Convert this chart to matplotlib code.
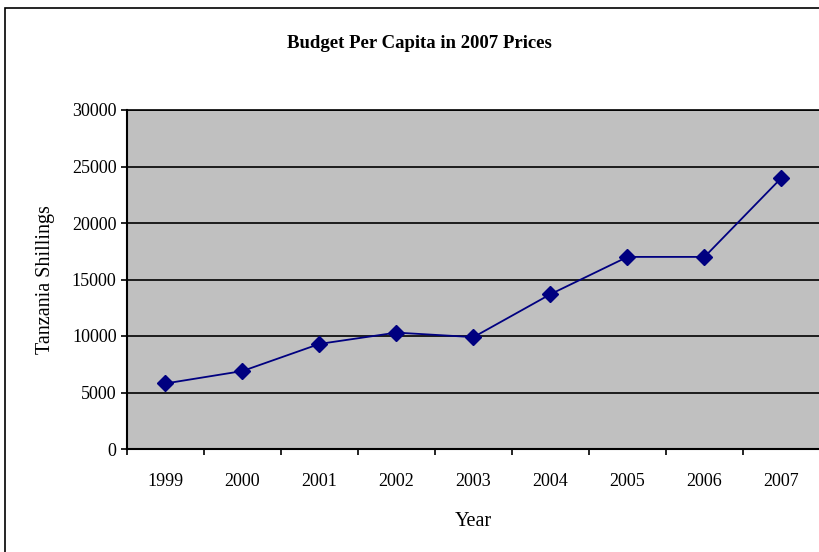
import numpy as np
import matplotlib.pyplot as plt
from matplotlib.patches import Rectangle

# data
years = ['1999', '2000', '2001', '2002', '2003', '2004', '2005', '2006', '2007']
budget = [5800, 6900, 9300, 10300, 9900, 13700, 17000, 17000, 24000]
yticks = [0, 5000, 10000, 15000, 20000, 25000, 30000]

plt.rcParams['font.family'] = ['Liberation Serif', 'DejaVu Serif']

fig = plt.figure(figsize=(8.2, 5.52), dpi=100)
ax = fig.add_axes([127 / 820, 103 / 552, 693 / 820, 339 / 552])
ax.set_facecolor('#C0C0C0')

x = np.arange(len(years))
ax.plot(x, budget, color='#000080', lw=1.3, marker='D', markersize=8,
        markerfacecolor='#000080', markeredgecolor='#000080', zorder=3)

ax.set_ylim(0, 30000)
ax.set_yticks(yticks)
ax.set_yticklabels([str(v) for v in yticks], fontsize=13)
ax.yaxis.grid(True, color='black', lw=1.2)
ax.set_axisbelow(True)

# category axis: ticks between categories, labels at centres
ax.set_xlim(-0.5, len(years) - 0.5)
ax.set_xticks(np.arange(-0.5, len(years), 1.0))
ax.set_xticklabels([])
ax.set_xticks(x, minor=True)
ax.set_xticklabels(years, minor=True, fontsize=13)
ax.tick_params(axis='x', which='minor', length=0, pad=17)
ax.tick_params(axis='both', which='major', length=4.5, width=1.2, direction='out', color='black')
ax.tick_params(axis='y', pad=3)

for s in ['left', 'bottom']:
    ax.spines[s].set_linewidth(1.5)
ax.spines['top'].set_linewidth(1.2)
ax.spines['right'].set_color('#808080')

ax.set_ylabel('Tanzania Shillings', fontsize=14.5, labelpad=12)
ax.set_xlabel('Year', fontsize=14.5, labelpad=16)
fig.text(0.512, 1 - 43 / 552, 'Budget Per Capita in 2007 Prices', fontsize=13.5,
         fontweight='bold', ha='center', va='center')

# chart area border
fig.patches.append(Rectangle((5 / 820, -0.05), 1.0, 1 - 8 / 552 + 0.05,
                             transform=fig.transFigure, fill=False,
                             edgecolor='black', lw=1.2))

fig.savefig('out.png', dpi=100)
